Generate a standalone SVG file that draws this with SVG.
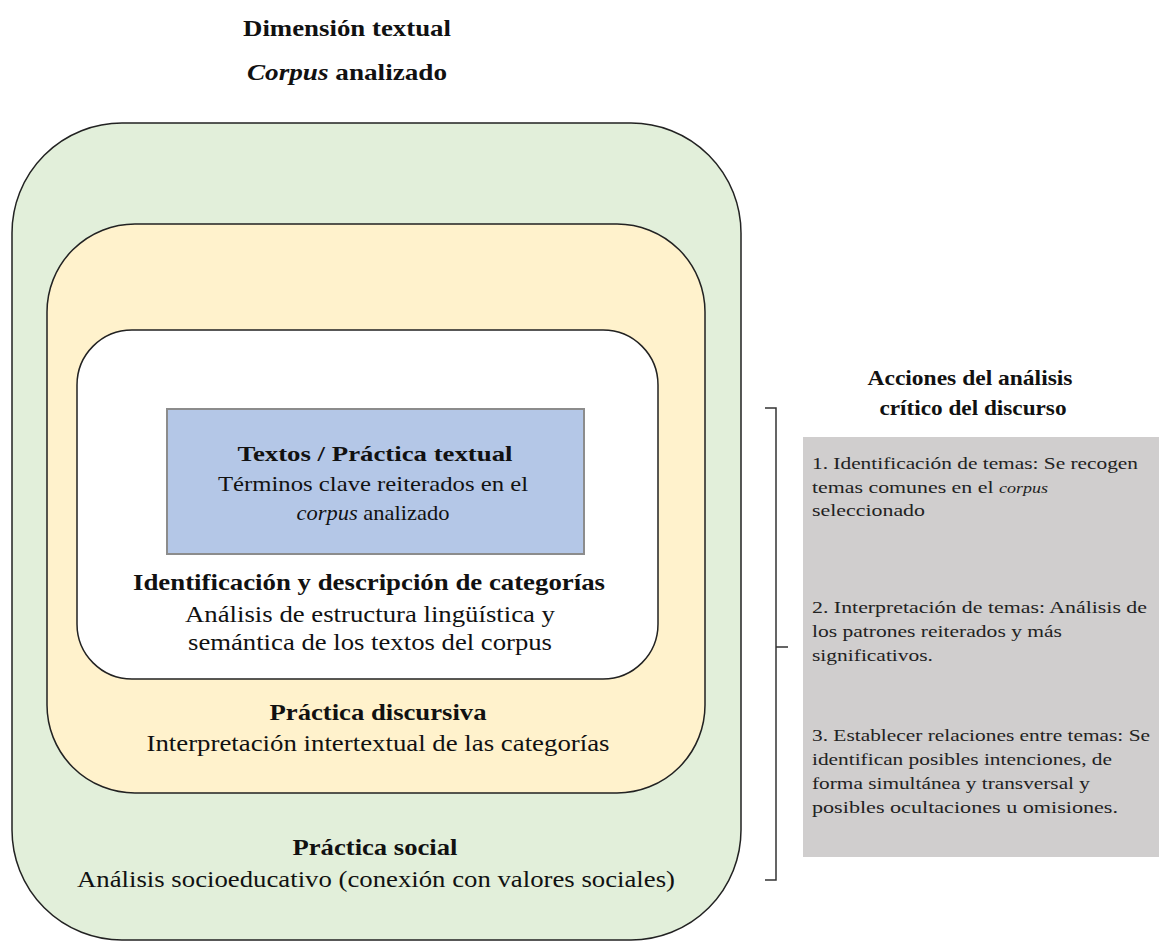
<svg xmlns="http://www.w3.org/2000/svg" width="1159" height="942" viewBox="0 0 1159 942">
<style>
.t{font-family:"Liberation Serif","Times New Roman",serif;fill:#111;text-anchor:middle}
.b{font-weight:bold}
.m{font-size:24px}
.s{font-size:21px}
.p{font-family:"Liberation Serif","Times New Roman",serif;fill:#222;font-size:17px}
.box{stroke:#222;stroke-width:1.5}
</style>
<rect width="1159" height="942" fill="#fff"/>
<g id="title">
<text class="t b m" x="347" y="36" textLength="208" lengthAdjust="spacingAndGlyphs">Dimensión textual</text>
<text class="t b m" x="347" y="80" textLength="200" lengthAdjust="spacingAndGlyphs"><tspan font-style="italic">Corpus</tspan> analizado</text>
</g>
<g id="social">
<rect class="box" x="12" y="123" width="729" height="817" rx="110" ry="110" fill="#e2efda"/>
<text class="t b m" x="375" y="855" textLength="165" lengthAdjust="spacingAndGlyphs">Práctica social</text>
<text class="t m" x="376" y="887" textLength="598" lengthAdjust="spacingAndGlyphs">Análisis socioeducativo (conexión con valores sociales)</text>
</g>
<g id="discursiva">
<rect class="box" x="47" y="224" width="658" height="569" rx="88" ry="88" fill="#fff2cc"/>
<text class="t b m" x="378" y="720" textLength="217" lengthAdjust="spacingAndGlyphs">Práctica discursiva</text>
<text class="t m" x="378" y="751" textLength="463" lengthAdjust="spacingAndGlyphs">Interpretación intertextual de las categorías</text>
</g>
<g id="categorias">
<rect class="box" x="77" y="330" width="581" height="349" rx="55" ry="55" fill="#fff"/>
<text class="t b m" x="369" y="590" textLength="472" lengthAdjust="spacingAndGlyphs">Identificación y descripción de categorías</text>
<text class="t m" x="370" y="622" textLength="370" lengthAdjust="spacingAndGlyphs">Análisis de estructura lingüística y</text>
<text class="t m" x="370" y="650" textLength="364" lengthAdjust="spacingAndGlyphs">semántica de los textos del corpus</text>
</g>
<g id="textos">
<rect x="167" y="409" width="417" height="145" fill="#b4c7e7" stroke="#8c8c8c" stroke-width="2"/>
<text class="t b s" x="375" y="461" textLength="275" lengthAdjust="spacingAndGlyphs">Textos / Práctica textual</text>
<text class="t s" x="373" y="491" textLength="310" lengthAdjust="spacingAndGlyphs">Términos clave reiterados en el</text>
<text class="t s" x="373" y="520" textLength="153" lengthAdjust="spacingAndGlyphs"><tspan font-style="italic">corpus</tspan> analizado</text>
</g>
<g id="connectors">
<path d="M765 408 H776 V880 H765 M776 647 H788" fill="none" stroke="#333" stroke-width="1.5"/>
</g>
<g id="acciones">
<text class="t b s" x="970" y="385" textLength="205" lengthAdjust="spacingAndGlyphs">Acciones del análisis</text>
<text class="t b s" x="973" y="415" textLength="187" lengthAdjust="spacingAndGlyphs">crítico del discurso</text>
</g>
<g id="panel">
<rect x="803" y="437" width="356" height="420" fill="#d0cece"/>
<text class="p" x="812" y="469" textLength="326" lengthAdjust="spacingAndGlyphs">1. Identificación de temas: Se recogen</text>
<text class="p" x="812" y="493" textLength="236" lengthAdjust="spacingAndGlyphs">temas comunes en el <tspan font-style="italic" font-size="14px">corpus</tspan></text>
<text class="p" x="812" y="516" textLength="113" lengthAdjust="spacingAndGlyphs">seleccionado</text>
<text class="p" x="812" y="613" textLength="335" lengthAdjust="spacingAndGlyphs">2. Interpretación de temas: Análisis de</text>
<text class="p" x="812" y="637" textLength="250" lengthAdjust="spacingAndGlyphs">los patrones reiterados y más</text>
<text class="p" x="812" y="661" textLength="121" lengthAdjust="spacingAndGlyphs">significativos.</text>
<text class="p" x="812" y="741" textLength="338" lengthAdjust="spacingAndGlyphs">3. Establecer relaciones entre temas: Se</text>
<text class="p" x="812" y="765" textLength="300" lengthAdjust="spacingAndGlyphs">identifican posibles intenciones, de</text>
<text class="p" x="812" y="789" textLength="278" lengthAdjust="spacingAndGlyphs">forma simultánea y transversal y</text>
<text class="p" x="812" y="813" textLength="306" lengthAdjust="spacingAndGlyphs">posibles ocultaciones u omisiones.</text>
</g>
</svg>
